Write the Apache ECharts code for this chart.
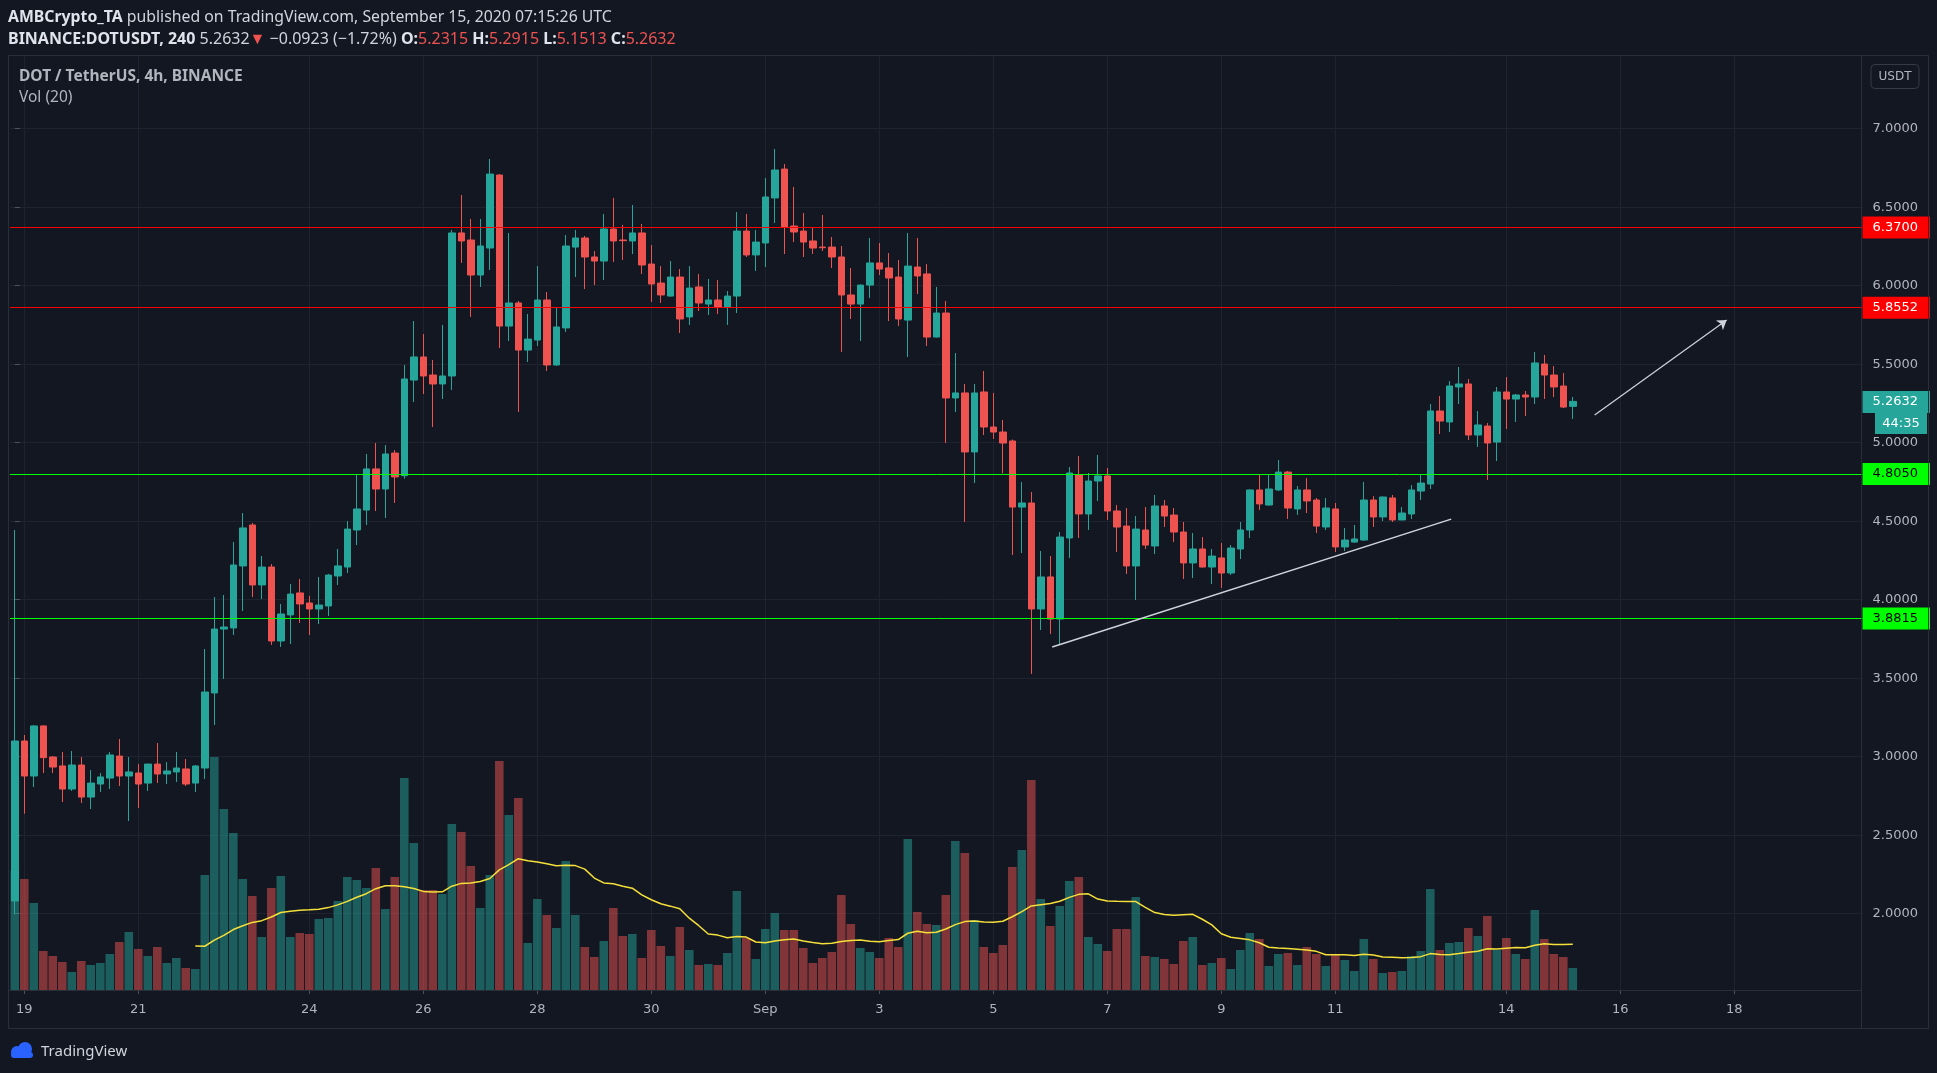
<!DOCTYPE html>
<html><head><meta charset="utf-8">
<script src="https://cdn.jsdelivr.net/npm/echarts@6.0.0/dist/echarts.min.js"></script>
<style>html,body{margin:0;padding:0;background:#131722;overflow:hidden}#c{width:1937px;height:1073px}</style>
</head><body><div id="c"></div>
<script>
// ---- DATA (4h candles from 2020-08-18 20:00 UTC) ----
const opens = [2.081,3.100,2.877,3.196,2.998,2.941,2.794,2.947,2.743,2.826,2.864,3.004,2.877,2.896,2.832,2.953,2.890,2.903,2.922,2.832,
2.928,3.406,3.813,3.820,4.215,4.476,4.094,4.208,3.737,3.903,4.043,3.979,3.941,3.960,4.151,4.208,4.444,4.571,4.833,4.705,
4.934,4.790,5.399,5.546,5.431,5.374,5.425,6.336,6.291,6.068,6.240,6.705,5.743,5.890,5.590,5.654,5.909,5.495,5.731,6.246,
6.304,6.183,6.157,6.361,6.291,6.285,6.336,6.138,6.017,5.934,6.055,5.801,5.992,5.883,5.909,5.864,5.934,6.348,6.196,6.272,
6.559,6.743,6.380,6.348,6.285,6.246,6.246,6.183,5.941,5.883,6.004,6.145,6.113,6.055,5.781,6.119,6.075,5.673,5.826,5.285,
5.317,4.941,5.323,5.100,5.068,5.011,4.590,4.616,3.941,4.145,3.877,4.393,4.794,4.546,4.756,4.788,4.565,4.469,4.215,4.444,
4.342,4.597,4.539,4.431,4.234,4.323,4.208,4.266,4.170,4.323,4.444,4.699,4.603,4.699,4.813,4.578,4.699,4.635,4.463,4.578,
4.336,4.367,4.380,4.635,4.527,4.648,4.508,4.546,4.692,4.737,5.202,5.132,5.355,5.374,5.049,5.106,5.004,5.323,5.278,5.304,
5.291,5.501,5.431,5.361,5.2315];
const highs = [4.444,3.138,3.202,3.200,3.004,3.030,3.036,2.998,2.915,2.896,3.030,3.113,2.998,2.953,2.955,3.087,2.966,3.030,2.985,2.947,
3.686,4.017,4.030,4.367,4.552,4.489,4.278,4.227,3.973,4.100,4.132,4.024,4.145,4.164,4.323,4.501,4.801,4.928,4.998,4.985,
4.953,5.495,5.775,5.692,5.527,5.750,6.355,6.578,6.425,6.425,6.807,6.711,6.336,5.903,5.820,6.125,5.960,5.858,6.323,6.355,
6.317,6.221,6.457,6.559,6.387,6.514,6.393,6.259,6.125,6.157,6.106,6.125,6.075,6.043,6.036,5.966,6.469,6.457,6.355,6.686,
6.871,6.775,6.629,6.463,6.374,6.450,6.310,6.253,6.113,6.008,6.304,6.272,6.208,6.164,6.336,6.304,6.138,5.992,5.903,5.571,
5.374,5.374,5.457,5.317,5.145,5.020,4.750,4.686,4.310,4.278,4.431,4.845,4.915,4.807,4.922,4.839,4.603,4.584,4.533,4.590,
4.667,4.635,4.584,4.495,4.425,4.399,4.323,4.361,4.348,4.495,4.703,4.794,4.794,4.890,4.820,4.724,4.775,4.648,4.648,4.616,
4.457,4.476,4.750,4.660,4.658,4.667,4.590,4.730,4.801,5.246,5.297,5.393,5.482,5.406,5.202,5.125,5.355,5.418,5.310,5.329,
5.578,5.559,5.488,5.444,5.2915];
const lows = [1.996,2.637,2.807,2.896,2.896,2.711,2.782,2.705,2.667,2.775,2.794,2.813,2.590,2.673,2.782,2.832,2.826,2.839,2.813,2.775,
2.858,3.202,3.495,3.775,3.928,4.017,4.004,3.712,3.699,3.718,3.852,3.775,3.845,3.896,4.094,4.170,4.348,4.476,4.565,4.520,
4.616,4.771,5.259,5.310,5.100,5.278,5.336,6.145,5.801,5.992,6.100,5.603,5.648,5.196,5.514,5.616,5.457,5.490,5.705,6.055,
5.979,6.004,6.036,6.151,6.164,6.202,6.075,5.896,5.890,5.930,5.699,5.750,5.839,5.813,5.820,5.750,5.826,6.183,6.094,6.119,
6.399,6.202,6.278,6.183,6.202,6.221,6.113,5.578,5.788,5.648,5.922,6.068,5.775,5.743,5.546,5.947,5.616,5.670,4.998,5.196,
4.495,4.743,5.049,5.024,4.805,4.285,4.297,3.527,3.807,3.782,3.718,4.266,4.393,4.444,4.629,4.508,4.304,4.164,3.998,4.323,
4.291,4.463,4.367,4.132,4.138,4.205,4.100,4.075,4.157,4.259,4.393,4.571,4.600,4.692,4.514,4.540,4.552,4.425,4.444,4.304,
4.310,4.364,4.374,4.463,4.501,4.495,4.505,4.514,4.635,4.705,5.055,5.068,5.246,5.017,4.973,4.762,4.883,5.087,5.132,5.170,
5.246,5.278,5.291,5.221,5.1513];
const closes = [3.100,2.877,3.196,2.994,2.934,2.794,2.947,2.743,2.832,2.871,3.011,2.877,2.903,2.826,2.953,2.890,2.909,2.928,2.826,2.941,
3.412,3.813,3.826,4.221,4.457,4.094,4.208,3.737,3.909,4.036,3.973,3.941,3.966,4.157,4.215,4.450,4.578,4.833,4.705,4.928,
4.782,5.406,5.546,5.425,5.374,5.425,6.336,6.285,6.068,6.253,6.711,5.743,5.890,5.590,5.660,5.909,5.495,5.737,6.253,6.304,
6.183,6.157,6.361,6.285,6.287,6.336,6.132,6.011,5.941,6.055,5.788,5.985,5.890,5.909,5.864,5.934,6.348,6.196,6.278,6.565,
6.737,6.374,6.342,6.278,6.240,6.242,6.183,5.941,5.883,6.004,6.145,6.106,6.049,5.788,6.125,6.062,5.673,5.826,5.285,5.317,
4.941,5.317,5.100,5.068,4.998,4.590,4.616,3.941,4.145,3.877,4.399,4.807,4.546,4.756,4.788,4.565,4.463,4.215,4.450,4.348,
4.597,4.533,4.431,4.234,4.323,4.208,4.278,4.170,4.329,4.444,4.699,4.610,4.705,4.813,4.584,4.699,4.629,4.469,4.584,4.336,
4.380,4.387,4.635,4.527,4.654,4.508,4.552,4.699,4.743,5.202,5.138,5.361,5.374,5.049,5.113,4.998,5.323,5.278,5.304,5.291,
5.508,5.431,5.355,5.227,5.2632];
const volumes = [119,111,87,39,34,28,18,29,25,27,36,48,58,41,34,43,27,32,22,21,
115,233,181,157,111,94,53,102,114,53,57,56,71,72,89,113,110,102,122,81,
113,212,147,100,100,96,166,158,124,82,115,229,175,192,47,91,75,62,129,75,
43,33,49,82,54,56,32,60,44,34,63,40,25,26,25,37,99,52,31,61,
77,60,60,42,27,32,38,95,66,42,38,32,52,43,151,78,66,65,95,149,
137,70,43,37,45,123,140,210,91,64,84,109,113,53,46,39,61,61,93,34,
33,31,26,49,53,25,27,32,21,40,57,51,24,36,37,25,43,36,24,36,
30,19,51,31,17,18,19,34,39,101,40,47,48,62,54,74,40,52,36,31,
80,51,36,33,22];
const tickIndex = [1,13,31,43,55,67,79,91,103,115,127,139,157,169,181];
const tickText = ['19','21','24','26','28','30','Sep','3','5','7','9','11','14','16','18'];
const priceTicks = [2.0,7.0,0.5];               // min, max, step
const levelValues = [6.37, 5.8552, 4.805, 3.8815];
const levelText = ['6.3700','5.8552','4.8050','3.8815'];
const lastPrice = 5.2632, countdown = '44:35';
const supportLine = [[109.2, 3.699],[151.2, 4.513]];   // [bar index, price]
const arrowLine = [[166.3, 5.176],[180.2, 5.781]];
const maPeriod = 20;

// ---- build ----
const startTime = Date.UTC(2020,7,18,20);
const slots = 195;
const cats = [];
for (let i = 0; i < slots; i++) cats.push(new Date(startTime + i*4*3600e3).toISOString().slice(0,16));
const tickMap = {}; tickIndex.forEach((t,k)=>tickMap[t]=tickText[k]);
const isTick = (idx)=> tickMap[idx] !== undefined;
const ohlc = opens.map((o,i)=>[o, closes[i], lows[i], highs[i]]);
const UP='#26a69a', DN='#ef5350';
const volData = volumes.map((v,i)=>({value:v, itemStyle:{color: closes[i]>=opens[i] ? 'rgba(38,166,154,0.5)' : 'rgba(239,83,80,0.5)'}}));
// Vol(20): simple moving average of the volume series, as the indicator defines it
const volMA = volumes.map((v,i)=>{ if(i<maPeriod-1) return '-'; let s=0; for(let k=i-maPeriod+1;k<=i;k++) s+=volumes[k]; return +(s/maPeriod).toFixed(2); });

const FONT='"DejaVu Sans", sans-serif';
const HF='"Noto Sans", sans-serif';
const lblBase = {show:true, position:'end', distance:0, fontSize:13, fontFamily:FONT, padding:[4,12,4,10], lineHeight:14};
const levelCols = [['#ff0000','#ffffff'],['#ff0000','#ffffff'],['#00ff00','#000000'],['#00ff00','#000000']];
const mlData = levelValues.map((v,k)=>({yAxis:v, lineStyle:{color:levelCols[k][0], width:1, type:'solid'},
  label:Object.assign({}, lblBase, {formatter:levelText[k], backgroundColor:levelCols[k][0], color:levelCols[k][1]})}));
mlData.push({yAxis:lastPrice, lineStyle:{color:'rgba(0,0,0,0)', width:1, type:'solid'},
  label:Object.assign({}, lblBase, {formatter:lastPrice.toFixed(4), backgroundColor:UP, color:'#ffffff'})});

const GL = 10.05, BW = 9.5, GW = slots*BW;
const chart = echarts.init(document.getElementById('c'), null, {renderer:'canvas'});
const frame = '#2a2e39', gridC = '#1f2330', txt = '#b2b5be';
const option = {
  animation:false,
  backgroundColor:'#131722',
  grid:[
    {left:GL, top:128.7, width:GW, height:785, outerBoundsMode:'none', containLabel:false},
    {left:GL, top:690, width:GW, height:300, outerBoundsMode:'none', containLabel:false},
    {left:GL+BW/2, top:55, width:(slots-1)*BW, height:935, outerBoundsMode:'none', containLabel:false}
  ],
  xAxis:[
    {gridIndex:0, type:'category', data:cats, boundaryGap:true, show:false},
    {gridIndex:1, type:'category', data:cats, boundaryGap:true, show:false},
    {gridIndex:2, type:'category', data:cats, boundaryGap:false, z:0,
      axisLine:{show:false}, axisTick:{show:true, interval:(i)=>isTick(i), length:4, lineStyle:{color:'#50535e'}},
      axisLabel:{interval:(i)=>isTick(i), formatter:(v,i)=>tickMap[i]||'', color:txt, fontSize:13, fontFamily:FONT, margin:13},
      splitLine:{show:true, interval:(i)=>isTick(i), lineStyle:{color:gridC, width:1}}},
    {gridIndex:0, type:'value', min:-0.5, max:slots-0.5, show:false, position:'top'}
  ],
  yAxis:[
    {gridIndex:0, type:'value', position:'right', min:priceTicks[0], max:priceTicks[1], interval:priceTicks[2],
      axisLine:{show:false}, axisTick:{show:true, length:5, lineStyle:{color:'#50535e'}},
      axisLabel:{formatter:(v)=>v.toFixed(4), color:txt, fontSize:13, fontFamily:FONT, margin:10},
      splitLine:{show:true, lineStyle:{color:gridC, width:1}}},
    {gridIndex:1, type:'value', min:0, max:300, show:false},
    {gridIndex:2, type:'value', min:0, max:1, show:false}
  ],
  series:[
    {type:'bar', xAxisIndex:1, yAxisIndex:1, data:volData, barCategoryGap:'10%', z:1, silent:true},
    {type:'line', xAxisIndex:1, yAxisIndex:1, data:volMA, symbol:'none', smooth:false, z:2, silent:true,
      lineStyle:{color:'#f5e03a', width:1.5}},
    {type:'candlestick', xAxisIndex:0, yAxisIndex:0, data:ohlc, barWidth:7, clip:false, z:3, silent:true,
      itemStyle:{color:UP, color0:DN, borderColor:UP, borderColor0:DN, borderWidth:1},
      markLine:{symbol:['none','none'], silent:true, animation:false, data:mlData, z:4}},
    {type:'line', xAxisIndex:3, yAxisIndex:0, data:supportLine, symbol:'none', z:5, silent:true, clip:false,
      lineStyle:{color:'#d1d4dc', width:1.5}},
    {type:'lines', coordinateSystem:'cartesian2d', xAxisIndex:3, yAxisIndex:0, z:5, silent:true,
      symbol:['none','arrow'], symbolSize:[0,9],
      lineStyle:{color:'#d1d4dc', width:1.2, opacity:1, curveness:0},
      data:[{coords:arrowLine}]}
  ]
};
chart.setOption(option);

// decorations: frame, header texts, countdown box (placed from the price scale)
const yLast = chart.convertToPixel({yAxisIndex:0}, lastPrice);
const L = (x1,y1,x2,y2,c)=>({type:'line', shape:{x1,y1,x2,y2}, style:{stroke:c||frame, lineWidth:1}, z:50, silent:true});
const HS = 16, H1 = 15.8;
chart.setOption({graphic:[
  L(8.5,55.5,1928.5,55.5), L(8.5,55.5,8.5,1028.5), L(1861.5,55.5,1861.5,1028.5), L(1928.5,55.5,1928.5,1028.5),
  L(8.5,990.5,1861.5,990.5), L(8.5,1028.5,1928.5,1028.5),
  {type:'text', x:8, y:17, z:60, silent:true, style:{verticalAlign:'middle', font:H1+'px '+HF, fill:'#d1d4dc',
    text:'{b|AMBCrypto_TA} {r|published on TradingView.com, September 15, 2020 07:15:26 UTC}',
    rich:{b:{fontWeight:'bold', fontSize:H1, fontFamily:HF, fill:'#e0e3eb'}, r:{fontSize:H1, fontFamily:HF, fill:'#d1d4dc'}}}},
  {type:'text', x:8, y:39.5, z:60, silent:true, style:{verticalAlign:'middle', font:HS+'px '+HF, fill:'#d1d4dc',
    text:'{b|BINANCE:DOTUSDT, 240} {r|5.2632}{d|▼} {r|\u22120.0923 (\u22121.72%)} {b|O:}{v|5.2315} {b|H:}{v|5.2915} {b|L:}{v|5.1513} {b|C:}{v|5.2632}',
    rich:{b:{fontWeight:'bold', fontSize:HS, fontFamily:HF, fill:'#e0e3eb'}, r:{fontSize:HS, fontFamily:HF, fill:'#d1d4dc'},
      d:{fontSize:HS, fontFamily:HF, fill:DN}, v:{fontSize:HS, fontFamily:HF, fill:DN}}}},
  {type:'text', x:19, y:77, z:60, silent:true, style:{verticalAlign:'middle', text:'DOT / TetherUS, 4h, BINANCE', font:'bold 15.5px '+HF, fill:txt}},
  {type:'text', x:19, y:98, z:60, silent:true, style:{verticalAlign:'middle', text:'Vol (20)', font:'15.5px '+HF, fill:txt}},
  {type:'rect', shape:{x:1871, y:64.5, width:48, height:24, r:4}, style:{fill:'none', stroke:'#363a45', lineWidth:1}, z:60, silent:true},
  {type:'text', x:1895, y:76.5, z:61, silent:true, style:{align:'center', verticalAlign:'middle', text:'USDT', font:'12px '+FONT, fill:txt}},
  {type:'rect', shape:{x:1875, y:yLast+11.5, width:52, height:21}, style:{fill:UP}, z:60, silent:true},
  {type:'text', x:1901, y:yLast+22, z:61, silent:true, style:{align:'center', verticalAlign:'middle', text:countdown, font:'13px '+FONT, fill:'#ffffff'}},
  // TradingView logo
  {type:'circle', shape:{cx:17, cy:1052, r:6}, style:{fill:'#2962ff'}, z:60, silent:true},
  {type:'circle', shape:{cx:25, cy:1049, r:7}, style:{fill:'#2962ff'}, z:60, silent:true},
  {type:'rect', shape:{x:11, y:1052, width:22, height:6, r:3}, style:{fill:'#2962ff'}, z:60, silent:true},
  {type:'text', x:41, y:1052, z:60, silent:true, style:{verticalAlign:'middle', text:'TradingView', font:'15px '+HF, fill:'#d1d4dc'}}
]});
</script></body></html>
